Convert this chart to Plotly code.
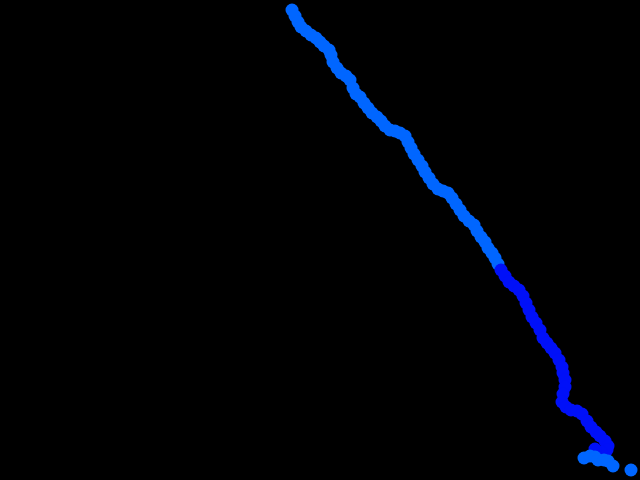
import plotly.graph_objects as go

# path points (horizontal position, vertical position)
x_light1 = [292, 295, 298, 301, 306, 311, 316, 320, 324, 329, 331, 333, 337, 341, 346, 350, 353, 356,
            360, 364, 368, 372, 377, 381, 385, 390, 395, 400, 405, 408, 411, 414, 418, 422, 425, 429,
            433, 438, 443, 448, 452, 456, 460, 464, 469, 474, 477, 481, 485, 488, 492, 495, 498]
y_light1 = [10, 16, 22, 27, 31, 35, 38, 42, 46, 50, 55, 62, 68, 73, 76, 80, 88, 94,
            97, 103, 108, 113, 117, 121, 126, 130, 131, 133, 136, 142, 148, 154, 160, 166, 172, 178,
            184, 189, 191, 193, 198, 204, 210, 216, 221, 225, 231, 237, 242, 248, 253, 258, 264]

x_dark = [501, 505, 509, 514, 519, 523, 526, 529, 532, 536, 540, 543, 547, 551, 555, 559, 562, 563,
          565, 565, 563, 562, 566, 571, 577, 582, 587, 591, 596, 600, 605, 608, 607, 601, 595]
y_dark = [270, 276, 282, 286, 290, 296, 303, 310, 317, 323, 330, 338, 343, 348, 353, 360, 367, 373,
          380, 387, 394, 402, 407, 410, 411, 414, 421, 427, 432, 436, 441, 446, 450, 452, 449]

x_light2 = [584, 590, 595, 598, 604, 608, 613, 631]
y_light2 = [458, 456, 457, 460, 460, 461, 466, 470]

fig = go.Figure()
fig.add_trace(go.Scatter(x=x_light1, y=y_light1, mode="markers",
                         marker=dict(size=13, color="#0066FF", line=dict(width=0))))
fig.add_trace(go.Scatter(x=x_dark, y=y_dark, mode="markers",
                         marker=dict(size=13, color="#0010F8", line=dict(width=0))))
fig.add_trace(go.Scatter(x=x_light2, y=y_light2, mode="markers",
                         marker=dict(size=13, color="#0066FF", line=dict(width=0))))

fig.update_layout(
    width=640, height=480,
    margin=dict(l=0, r=0, t=0, b=0),
    paper_bgcolor="black", plot_bgcolor="black",
    showlegend=False,
    xaxis=dict(range=[0, 640], visible=False),
    yaxis=dict(range=[480, 0], visible=False),
)
fig.write_html(
    "out.html",
    config={"displayModeBar": False},
    post_script="document.body.style.margin='0';document.body.style.background='black';",
)
